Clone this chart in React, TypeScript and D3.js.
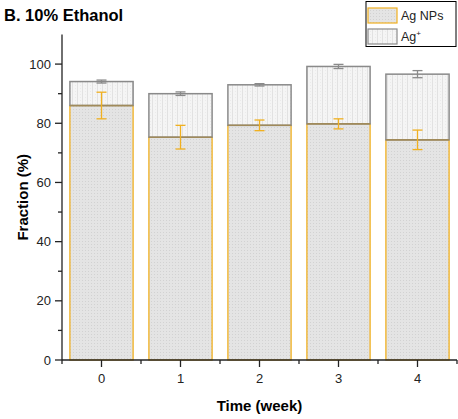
import React from "react";
import * as d3 from "d3";

// chart values (%)
const weeks = [0, 1, 2, 3, 4];
const agNPs = [86.0, 75.3, 79.3, 79.8, 74.4];
const agNPsErr = [4.5, 4.0, 1.8, 1.7, 3.3];
const agIon = [8.1, 14.7, 13.7, 19.4, 22.2];
const agIonErr = [0.5, 0.6, 0.4, 0.7, 1.2];
const yTicks = [0, 20, 40, 60, 80, 100];

const W = 458;
const H = 419;
const margin = { left: 62, top: 34.5, right: 1, bottom: 59 };

const App = () => {
  const x = d3.scaleLinear().domain([-0.5, 4.5]).range([margin.left, W - margin.right]);
  const y = d3.scaleLinear().domain([0, 110]).range([H - margin.bottom, margin.top]);
  const bw = (x(1) - x(0)) * 0.8;
  const cap = 5;

  const minorY = d3.range(10, 110, 20);
  const minorX = d3.range(-0.5, 5, 1);

  return (
    <svg width={W} height={H} style={{ position: "absolute", left: 0, top: 0, fontFamily: "'Liberation Sans', Arial, sans-serif" }}>
      <defs>
        <pattern id="dots" width="3" height="3" patternUnits="userSpaceOnUse">
          <rect width="3" height="3" fill="#e4e4e4" />
          <rect x="1" y="1" width="1" height="1" fill="#d2d2d2" />
        </pattern>
        <pattern id="vlines" width="5" height="3" patternUnits="userSpaceOnUse">
          <rect width="5" height="3" fill="#f5f5f5" />
          <rect x="2" width="1" height="3" fill="#e2e2e2" />
          <rect x="0" y="1" width="1" height="1" fill="#ebebeb" />
        </pattern>
      </defs>

      <text x={4} y={21} fontSize={16.5} fontWeight="bold">B. 10% Ethanol</text>

      {/* bars */}
      {weeks.map((w, i) => {
        const x0 = x(w) - bw / 2;
        const top1 = y(agNPs[i]);
        const top2 = y(agNPs[i] + agIon[i]);
        return (
          <g key={w}>
            <rect x={x0} y={top1} width={bw} height={y(0) - top1} fill="url(#dots)" stroke="#f0b020" strokeWidth={1.3} />
            <rect x={x0} y={top2} width={bw} height={top1 - top2} fill="url(#vlines)" stroke="#8a8a8a" strokeWidth={1.5} />
            <line x1={x0} x2={x0 + bw} y1={top1} y2={top1} stroke="#a08a5a" strokeWidth={1.5} />
          </g>
        );
      })}

      {/* error bars */}
      {weeks.map((w, i) => {
        const cx = x(w);
        const v1 = agNPs[i];
        const v2 = agNPs[i] + agIon[i];
        return (
          <g key={"e" + w}>
            <g stroke="#f0b020" strokeWidth={1.3}>
              <line x1={cx} x2={cx} y1={y(v1 + agNPsErr[i])} y2={y(v1 - agNPsErr[i])} />
              <line x1={cx - cap} x2={cx + cap} y1={y(v1 + agNPsErr[i])} y2={y(v1 + agNPsErr[i])} />
              <line x1={cx - cap} x2={cx + cap} y1={y(v1 - agNPsErr[i])} y2={y(v1 - agNPsErr[i])} />
            </g>
            <g stroke="#8a8a8a" strokeWidth={1.3}>
              <line x1={cx} x2={cx} y1={y(v2 + agIonErr[i])} y2={y(v2 - agIonErr[i])} />
              <line x1={cx - cap} x2={cx + cap} y1={y(v2 + agIonErr[i])} y2={y(v2 + agIonErr[i])} />
              <line x1={cx - cap} x2={cx + cap} y1={y(v2 - agIonErr[i])} y2={y(v2 - agIonErr[i])} />
            </g>
          </g>
        );
      })}

      {/* y axis */}
      <g stroke="#222" strokeWidth={1.3}>
        <line x1={margin.left} x2={margin.left} y1={y(110)} y2={y(0)} />
        {yTicks.map((t) => (
          <line key={t} x1={margin.left - 7} x2={margin.left} y1={y(t)} y2={y(t)} />
        ))}
        {minorY.map((t) => (
          <line key={t} x1={margin.left - 4} x2={margin.left} y1={y(t)} y2={y(t)} />
        ))}
      </g>
      {yTicks.map((t) => (
        <text key={t} x={margin.left - 11} y={y(t)} dy="0.36em" textAnchor="end" fontSize={13} fill="#222">
          {t}
        </text>
      ))}
      <text transform={`translate(28,${(y(0) + y(110)) / 2}) rotate(-90)`} textAnchor="middle" fontSize={15} fontWeight="bold">
        Fraction (%)
      </text>

      {/* x axis */}
      <g stroke="#222" strokeWidth={1.3}>
        <line x1={margin.left} x2={W - margin.right} y1={y(0)} y2={y(0)} />
        {weeks.map((t) => (
          <line key={t} x1={x(t)} x2={x(t)} y1={y(0)} y2={y(0) + 7} />
        ))}
        {minorX.map((t) => (
          <line key={t} x1={x(t)} x2={x(t)} y1={y(0)} y2={y(0) + 4} />
        ))}
      </g>
      {weeks.map((t) => (
        <text key={t} x={x(t)} y={y(0) + 23} textAnchor="middle" fontSize={13} fill="#222">
          {t}
        </text>
      ))}
      <text x={(x(-0.5) + x(4.5)) / 2} y={H - 8} textAnchor="middle" fontSize={15} fontWeight="bold">
        Time (week)
      </text>

      {/* legend */}
      <g>
        <rect x={366} y={1.5} width={90} height={45} fill="#fff" stroke="#000" strokeWidth={1} />
        <rect x={368} y={8} width={29} height={15} fill="url(#dots)" stroke="#f0b020" strokeWidth={1.2} />
        <rect x={368} y={29} width={29} height={15} fill="url(#vlines)" stroke="#8a8a8a" strokeWidth={1.2} />
        <text x={401} y={20} fontSize={12.5} fill="#222">Ag NPs</text>
        <text x={401} y={41} fontSize={12.5} fill="#222">
          Ag<tspan fontSize={8} dy={-5}>+</tspan>
        </text>
      </g>
    </svg>
  );
};

export default App;
